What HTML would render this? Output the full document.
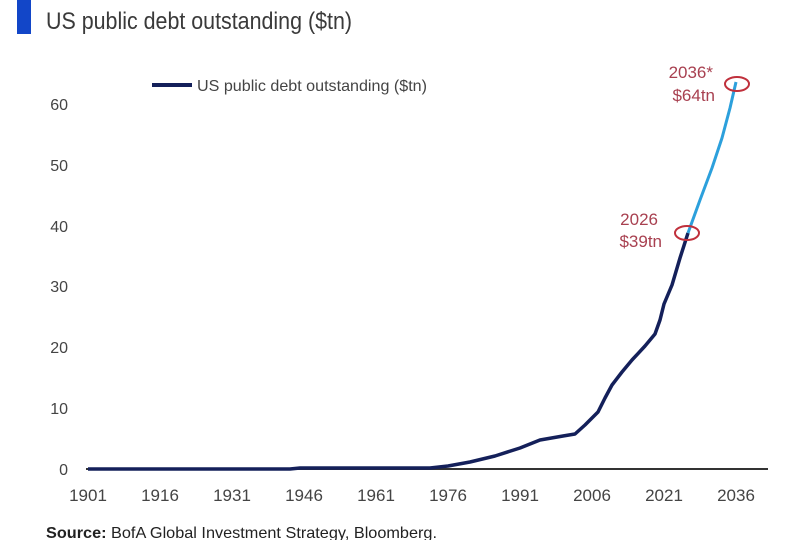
<!DOCTYPE html>
<html><head><meta charset="utf-8"><style>
body{margin:0;background:#fff;}
svg{display:block;font-family:"Liberation Sans Narrow","Liberation Sans",sans-serif;}
</style></head><body>
<svg width="790" height="540" viewBox="0 0 790 540">
<rect x="17" y="0" width="14" height="34" fill="#1246c8"/>
<text x="46" y="29" font-size="24" fill="#3a3a3a" textLength="306" lengthAdjust="spacingAndGlyphs">US public debt outstanding ($tn)</text>
<line x1="152" y1="85" x2="192" y2="85" stroke="#14205a" stroke-width="4"/>
<text x="197" y="91" font-size="16" fill="#444" textLength="230" lengthAdjust="spacingAndGlyphs">US public debt outstanding ($tn)</text>
<g font-size="16" fill="#444" text-anchor="end" font-family="Liberation Sans Narrow, Liberation Sans, sans-serif">
<text x="68" y="110">60</text><text x="68" y="171">50</text><text x="68" y="232">40</text>
<text x="68" y="292">30</text><text x="68" y="353">20</text><text x="68" y="414">10</text>
<text x="68" y="475">0</text>
</g>
<line x1="86" y1="469" x2="768" y2="469" stroke="#333" stroke-width="2"/>
<g font-size="17" fill="#444" text-anchor="middle">
<text x="88" y="501">1901</text><text x="160" y="501">1916</text><text x="232" y="501">1931</text>
<text x="304" y="501">1946</text><text x="376" y="501">1961</text><text x="448" y="501">1976</text>
<text x="520" y="501">1991</text><text x="592" y="501">2006</text><text x="664" y="501">2021</text>
<text x="736" y="501">2036</text>
</g>
<path d="M88,469 L290,469 L300,468 L430,468 L448,466 L470,462 L495,456 L520,448 L540,440 L563,436 L575,434 L585,425 L598,412 L605,398 L612,385 L622,372 L632,360 L645,346 L655,334 L660,320 L664,304 L672,285 L680,258 L688,233" fill="none" stroke="#14205a" stroke-width="3.5" stroke-linejoin="round"/>
<path d="M688,233 L700,200 L712,168 L722,138 L730,108 L736,82" fill="none" stroke="#2ca0dc" stroke-width="3" stroke-linejoin="round"/>
<ellipse cx="687" cy="233" rx="12" ry="7" fill="none" stroke="#c0303c" stroke-width="2"/>
<ellipse cx="737" cy="84" rx="12" ry="7" fill="none" stroke="#c0303c" stroke-width="2"/>
<g font-size="17" fill="#a84050" text-anchor="end">
<text x="658" y="225">2026</text><text x="662" y="247">$39tn</text>
<text x="713" y="78">2036*</text><text x="715" y="101">$64tn</text>
</g>
<text x="46" y="538" font-size="16" fill="#222" textLength="391" lengthAdjust="spacingAndGlyphs"><tspan font-weight="bold">Source:</tspan> BofA Global Investment Strategy, Bloomberg.</text>
</svg>
</body></html>
